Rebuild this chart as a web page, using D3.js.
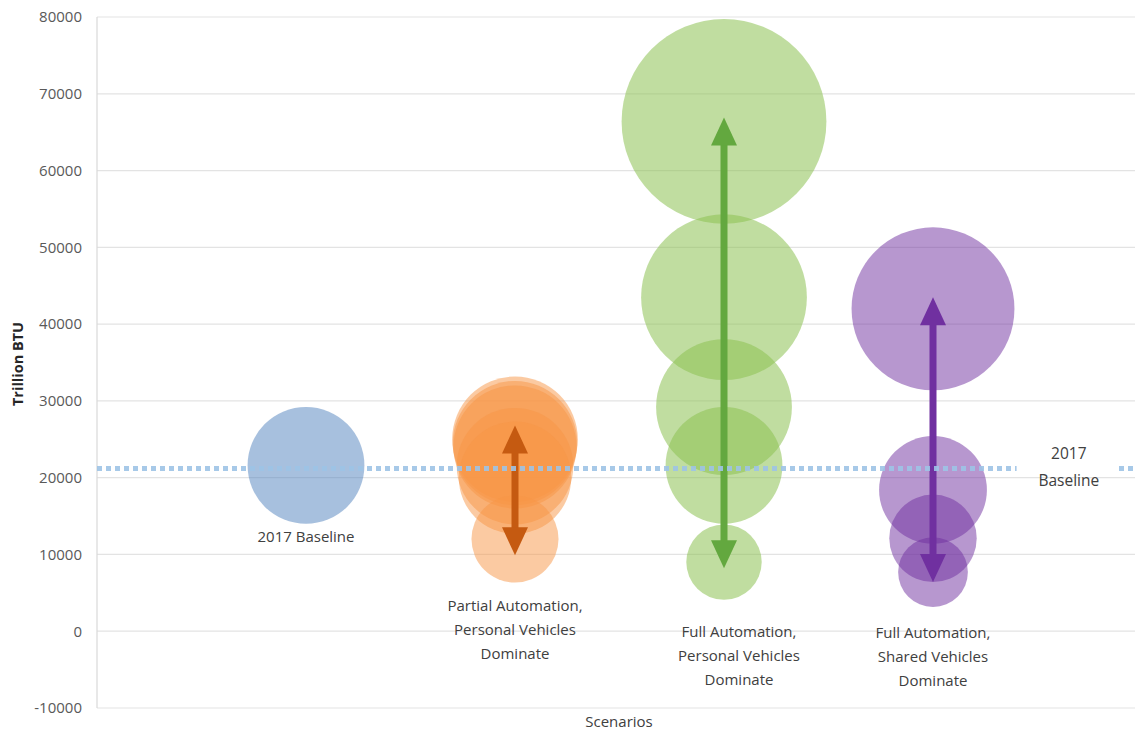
<!DOCTYPE html>
<html>
<head>
<meta charset="utf-8">
<script src="https://cdn.jsdelivr.net/npm/d3@7"></script>
<style>
  html, body { margin: 0; padding: 0; background: #fff; }
  svg { display: block; }
  text { font-family: "Open Sans", Lato, sans-serif; fill: #404040; }
</style>
</head>
<body>
<svg id="chart" width="1135" height="733"></svg>
<script>
// ---------- data ----------
const yTicks = [-10000, 0, 10000, 20000, 30000, 40000, 50000, 60000, 70000, 80000];
const yTickLabels = ["-10000", "0", "10000", "20000", "30000", "40000", "50000", "60000", "70000", "80000"];
const scenarios = ["2017 Baseline", "Partial Automation, Personal Vehicles Dominate",
                   "Full Automation, Personal Vehicles Dominate", "Full Automation, Shared Vehicles Dominate"];
const scenarioLabelLines = [
  ["2017 Baseline"],
  ["Partial Automation,", "Personal Vehicles", "Dominate"],
  ["Full Automation,", "Personal Vehicles", "Dominate"],
  ["Full Automation,", "Shared Vehicles", "Dominate"]
];
// bubble values (Trillion BTU); bubble size = value
const baselineValues = [21600];
const partialPersonalValues = [25000, 24500, 24000, 21500, 20000, 12000];
const fullPersonalValues = [66400, 43500, 29200, 21600, 9000];
const fullSharedValues = [42000, 18400, 12100, 7700];
// arrow ranges [low, high]
const arrowRanges = [null, [9900, 26800], [8200, 66900], [6400, 43500]];
const baselineLevel = 21200;

(function () {
// ---------- styles ----------
const fills = ["#4F81BD", "#F79646", "#8CC152", "#7030A0"];
const fillOpacity = [0.5, 0.5, 0.55, 0.5];
const arrowColors = [null, "#C55A11", "#63A83F", "#7030A0"];

const svg = d3.select("#chart");
const mLeft = 97, mRight = 1135, mTop = 17, mBottom = 708;

const x = d3.scaleLinear().domain([0, 5]).range([mLeft, mLeft + 209 * 5]);
const y = d3.scaleLinear().domain([-10000, 80000]).range([mBottom, mTop]);
const r = d3.scaleSqrt().domain([0, 66400]).range([0, 102.4]);

// gridlines
svg.append("g").selectAll("line").data(yTicks).join("line")
  .attr("x1", mLeft).attr("x2", mRight)
  .attr("y1", d => y(d)).attr("y2", d => y(d))
  .attr("stroke", "#E3E3E3").attr("stroke-width", 1.2);
// left axis line
svg.append("line").attr("x1", mLeft).attr("x2", mLeft).attr("y1", mTop).attr("y2", mBottom)
  .attr("stroke", "#D9D9D9").attr("stroke-width", 1.2);

// y tick labels
const yAxis = d3.axisLeft(y).tickValues(yTicks).tickSize(0).tickPadding(15)
  .tickFormat((d, i) => yTickLabels[i]);
const yg = svg.append("g").attr("transform", `translate(${mLeft},0)`).call(yAxis);
yg.select(".domain").remove();
yg.selectAll("text").style("font-family", "'Open Sans', sans-serif").style("font-size", "15px").style("fill", "#595959");

// y title
svg.append("text").attr("transform", `translate(23,${364}) rotate(-90)`)
  .attr("text-anchor", "middle").style("font-size", "14.5px").style("font-weight", "bold")
  .style("fill", "#262626").text("Trillion BTU");

// bubbles
const groups = [baselineValues, partialPersonalValues, fullPersonalValues, fullSharedValues];
groups.forEach((vals, i) => {
  svg.append("g").selectAll("circle").data(vals).join("circle")
    .attr("cx", x(i + 1)).attr("cy", d => y(d)).attr("r", d => r(d))
    .attr("fill", fills[i]).attr("fill-opacity", fillOpacity[i]);
});

// arrows
const headLen = 28, headW = 13, lineW = 7;
arrowRanges.forEach((rg, i) => {
  if (!rg) return;
  const cx = x(i + 1), yT = y(rg[1]), yB = y(rg[0]);
  const g = svg.append("g");
  g.append("line").attr("x1", cx).attr("x2", cx).attr("y1", yT + headLen - 2).attr("y2", yB - headLen + 2)
    .attr("stroke", arrowColors[i]).attr("stroke-width", lineW);
  g.append("path").attr("d", `M${cx},${yT} L${cx - headW},${yT + headLen} L${cx + headW},${yT + headLen} Z`)
    .attr("fill", arrowColors[i]);
  g.append("path").attr("d", `M${cx},${yB} L${cx - headW},${yB - headLen} L${cx + headW},${yB - headLen} Z`)
    .attr("fill", arrowColors[i]);
});

// baseline dotted line (with gap for label)
const baseY = y(baselineLevel);
[[mLeft, x(4.4)], [x(4.89), mRight]].forEach(seg => {
  svg.append("line").attr("x1", seg[0]).attr("x2", seg[1]).attr("y1", baseY).attr("y2", baseY)
    .attr("stroke", "#9DC3E6").attr("stroke-opacity", 0.9).attr("stroke-width", 5)
    .attr("stroke-dasharray", "5,4");
});
svg.append("text").attr("x", x(4.65)).attr("y", baseY - 9).attr("text-anchor", "middle")
  .style("font-size", "15.5px").text("2017");
svg.append("text").attr("x", x(4.65)).attr("y", baseY + 18).attr("text-anchor", "middle")
  .style("font-size", "15.5px").text("Baseline");

// scenario labels
const labelTop = [537, 606, 632, 633];
scenarioLabelLines.forEach((lines, i) => {
  const t = svg.append("text").attr("text-anchor", "middle").style("font-size", "15px");
  lines.forEach((ln, j) => {
    t.append("tspan").attr("x", x(i + 1) + (i === 2 ? 15 : 0)).attr("y", labelTop[i] + 5 + j * 24).text(ln);
  });
});

// x title
svg.append("text").attr("x", 619).attr("y", 727).attr("text-anchor", "middle")
  .style("font-size", "15px").text("Scenarios");
})();
</script>
</body>
</html>
